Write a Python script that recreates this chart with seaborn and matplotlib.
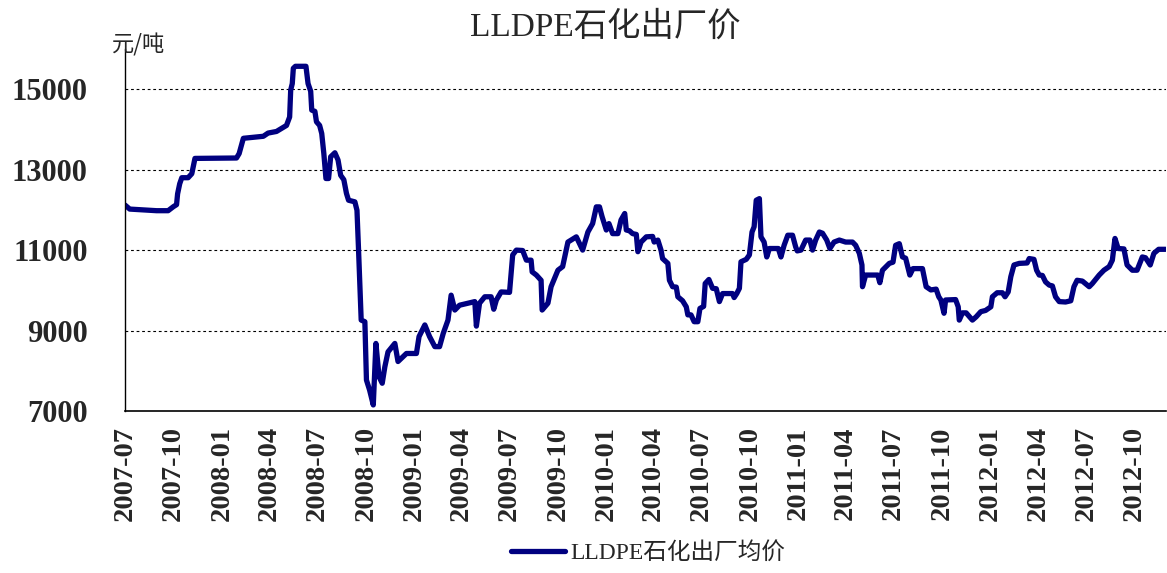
import matplotlib
matplotlib.use("Agg")
import matplotlib.pyplot as plt
import seaborn as sns
import pandas as pd

title = "LLDPE石化出厂价"
series_name = "LLDPE石化出厂均价"
unit_label = "元/吨"

dates = [
    "2007-07-01", "2007-07-10", "2007-08-05", "2007-08-30", "2007-09-21", "2007-10-01",
    "2007-10-07", "2007-10-09", "2007-10-13", "2007-10-17", "2007-10-29", "2007-11-05",
    "2007-11-11", "2008-01-29", "2008-02-03", "2008-02-11", "2008-03-20", "2008-03-29",
    "2008-04-14", "2008-04-24", "2008-05-03", "2008-05-09", "2008-05-11", "2008-05-14",
    "2008-05-16", "2008-05-20", "2008-06-09", "2008-06-13", "2008-06-18", "2008-06-20",
    "2008-06-26", "2008-06-29", "2008-07-05", "2008-07-09", "2008-07-13", "2008-07-17",
    "2008-07-22", "2008-07-26", "2008-08-03", "2008-08-09", "2008-08-14", "2008-08-20",
    "2008-08-25", "2008-08-29", "2008-09-10", "2008-09-14", "2008-09-17", "2008-09-22",
    "2008-09-29", "2008-10-02", "2008-10-08", "2008-10-15",
    "2008-10-20", "2008-10-26", "2008-11-01", "2008-11-06", "2008-11-12", "2008-11-25",
    "2008-12-01", "2008-12-17", "2009-01-05", "2009-01-10", "2009-01-21", "2009-01-30",
    "2009-02-09", "2009-02-18", "2009-02-25", "2009-03-06", "2009-03-12", "2009-03-19",
    "2009-03-28", "2009-04-26", "2009-04-29", "2009-05-05", "2009-05-15", "2009-05-27",
    "2009-06-01", "2009-06-06", "2009-06-15", "2009-07-01", "2009-07-07", "2009-07-14",
    "2009-07-26", "2009-08-02", "2009-08-11", "2009-08-13", "2009-08-21", "2009-08-30",
    "2009-09-01", "2009-09-12", "2009-09-18", "2009-10-01", "2009-10-10", "2009-10-20",
    "2009-11-05", "2009-11-17", "2009-11-27", "2009-12-06", "2009-12-13",
    "2009-12-19", "2009-12-24", "2010-01-01", "2010-01-06", "2010-01-13", "2010-01-23",
    "2010-01-29", "2010-02-05", "2010-02-08", "2010-02-14", "2010-02-20", "2010-02-27",
    "2010-03-02", "2010-03-08", "2010-03-18", "2010-03-30", "2010-04-02", "2010-04-09",
    "2010-04-15", "2010-04-18", "2010-04-28", "2010-05-01", "2010-05-07", "2010-05-14",
    "2010-05-17", "2010-05-26", "2010-06-02", "2010-06-05", "2010-06-11", "2010-06-17",
    "2010-06-24", "2010-06-28", "2010-07-05", "2010-07-08", "2010-07-15", "2010-07-22",
    "2010-07-29", "2010-08-04", "2010-08-10", "2010-08-29", "2010-09-01", "2010-09-06",
    "2010-09-11", "2010-09-14", "2010-09-24", "2010-09-30", "2010-10-05", "2010-10-09",
    "2010-10-13", "2010-10-19", "2010-10-22", "2010-10-28", "2010-11-02", "2010-11-07",
    "2010-11-24", "2010-11-29", "2010-12-05", "2010-12-12", "2010-12-21", "2010-12-27",
    "2010-12-30", "2011-01-06", "2011-01-15", "2011-01-23", "2011-01-28", "2011-02-03",
    "2011-02-10", "2011-02-16", "2011-02-24", "2011-03-02", "2011-03-10", "2011-03-20",
    "2011-04-01", "2011-04-14", "2011-04-20", "2011-04-27", "2011-05-02", "2011-05-03",
    "2011-05-09", "2011-06-01", "2011-06-05", "2011-06-10", "2011-06-23", "2011-06-30",
    "2011-07-05", "2011-07-12", "2011-07-18", "2011-07-24", "2011-08-01", "2011-08-07",
    "2011-08-25", "2011-09-01", "2011-09-10", "2011-09-20", "2011-09-25", "2011-09-29",
    "2011-10-05", "2011-10-08", "2011-10-27", "2011-11-01", "2011-11-03", "2011-11-09",
    "2011-11-16", "2011-11-28", "2011-12-05", "2011-12-14", "2011-12-23", "2012-01-02",
    "2012-01-05", "2012-01-14", "2012-01-24", "2012-01-29", "2012-02-04", "2012-02-09",
    "2012-02-15", "2012-02-25", "2012-03-11", "2012-03-15", "2012-03-24", "2012-03-29",
    "2012-04-03", "2012-04-09", "2012-04-15", "2012-04-22", "2012-04-28", "2012-05-04",
    "2012-05-11", "2012-05-23", "2012-06-02", "2012-06-08", "2012-06-14", "2012-06-24",
    "2012-07-07", "2012-07-13", "2012-07-26", "2012-08-04", "2012-08-14", "2012-08-20",
    "2012-08-25", "2012-08-31", "2012-09-11", "2012-09-17", "2012-09-27", "2012-10-06",
    "2012-10-16", "2012-10-22", "2012-10-31", "2012-11-07", "2012-11-16", "2012-11-29",
]

prices = [
    12120, 12020, 12000, 11980, 11980, 12080,
    12130, 12400, 12650, 12800, 12800, 12900,
    13280, 13290, 13400, 13780, 13830, 13910,
    13950, 14030, 14100, 14310, 14980, 15140,
    15520, 15570, 15570, 15140, 14950, 14480,
    14450, 14190, 14100, 13900, 13400, 12780,
    12780, 13320, 13420, 13240, 12860, 12750,
    12410, 12240, 12200, 11990, 11000, 9260,
    9220, 7770, 7520, 7150,
    8680, 7850, 7690, 8100, 8470, 8680,
    8230, 8430, 8430, 8850, 9140, 8850,
    8600, 8600, 8930, 9260, 9880, 9510,
    9630, 9720, 9110, 9680, 9840, 9840,
    9530, 9760, 9960, 9950, 10880, 11000,
    10990, 10750, 10750, 10460, 10380, 10250,
    9510, 9680, 10090, 10500, 10590, 11200,
    11330, 11000, 11450, 11660, 12075,
    12075, 11830, 11500, 11660, 11410, 11410,
    11750, 11910, 11500, 11480, 11410, 11390,
    10960, 11200, 11330, 11340, 11200, 11250,
    11000, 10790, 10670, 10250, 10090, 10080,
    9840, 9740, 9590, 9390, 9390, 9220,
    9220, 9550, 9600, 10170, 10270, 10050,
    10040, 9720, 9920, 9920, 9820, 9920,
    10050, 10710, 10770, 10880, 11450, 11580,
    12240, 12280, 11330, 11200, 10830, 11040,
    11040, 10830, 11120, 11370, 11370, 11080,
    10980, 11000, 11250, 11250, 11000, 11250,
    11450, 11420, 11250, 11040, 11200, 11250,
    11200, 11200, 11120, 10920, 10630, 10090,
    10380, 10380, 10190, 10500, 10670, 10700,
    11120, 11160, 10830, 10800, 10380, 10540,
    10540, 10090, 10010, 10030, 9840, 9760,
    9430, 9760, 9770, 9590, 9260, 9440,
    9440, 9260, 9340, 9470, 9500, 9590,
    9840, 9940, 9940, 9840, 9960, 10340,
    10630, 10670, 10680, 10790, 10770, 10500,
    10380, 10370, 10210, 10130, 10110, 9840,
    9720, 9710, 9740, 10090, 10250, 10230,
    10090, 10170, 10380, 10500, 10590, 10750,
    11290, 11040, 11030, 10630, 10500, 10500,
    10830, 10810, 10630, 10920, 11020, 11020,
]

y_ticks = [7000, 9000, 11000, 13000, 15000]
x_tick_dates = pd.date_range("2007-07-01", "2012-10-01", freq="3MS")

sns.set_style("white")
plt.rcParams["font.family"] = ["Liberation Serif", "Noto Sans CJK SC", "DejaVu Sans"]

df = pd.DataFrame({"date": pd.to_datetime(dates), "price": prices})

fig = plt.figure(figsize=(11.67, 5.73), dpi=100)
ax = fig.add_axes([125 / 1167, 1 - 411 / 573, (1166 - 125) / 1167, (411 - 49) / 573])

sns.lineplot(data=df, x="date", y="price", color="#000080", linewidth=3.8,
             ax=ax, label=series_name, solid_joinstyle="round", solid_capstyle="round")

ax.set_xlim(pd.Timestamp("2007-07-01"), pd.Timestamp("2012-11-30"))
ax.set_ylim(7000, 16000)
ax.set_yticks(y_ticks)
ax.set_yticklabels([str(v) for v in y_ticks], fontsize=22, fontweight="bold",
                   family="Liberation Serif")
ax.set_xticks(x_tick_dates)
ax.set_xticklabels([d.strftime("%Y-%m") for d in x_tick_dates], rotation=90,
                   fontsize=20.5, fontweight="bold", family="Liberation Serif")
ax.set_xlabel("")
ax.set_ylabel("")

for v in y_ticks[1:]:
    ax.axhline(v, color="black", linestyle=(0, (2.5, 2.5)), linewidth=0.8, zorder=0)

for s in ["top", "right"]:
    ax.spines[s].set_visible(False)
ax.spines["left"].set_color("black")
ax.spines["bottom"].set_color("black")
ax.spines["left"].set_linewidth(1.0)
ax.spines["bottom"].set_linewidth(1.2)

ax.tick_params(axis="y", length=0, pad=27)
ax.tick_params(axis="x", direction="in", length=6.5, width=1, color="#808080", pad=11)

fig.text(605 / 1167, 1 - 27 / 573, title, ha="center", va="center", fontsize=24,
         family=["Liberation Serif", "Noto Sans CJK SC"])
fig.text(112 / 1167, 1 - 45 / 573, unit_label, ha="left", va="center", fontsize=16,
         family=["Noto Sans CJK SC", "DejaVu Sans"])

leg = ax.legend(loc="center", bbox_to_anchor=(648 / 1167, 1 - 553 / 573),
                bbox_transform=fig.transFigure, frameon=False,
                handlelength=2.3, handletextpad=0.2,
                prop={"family": ["Liberation Serif", "Noto Sans CJK SC"], "size": 17})

fig.savefig("out.png", dpi=100)
